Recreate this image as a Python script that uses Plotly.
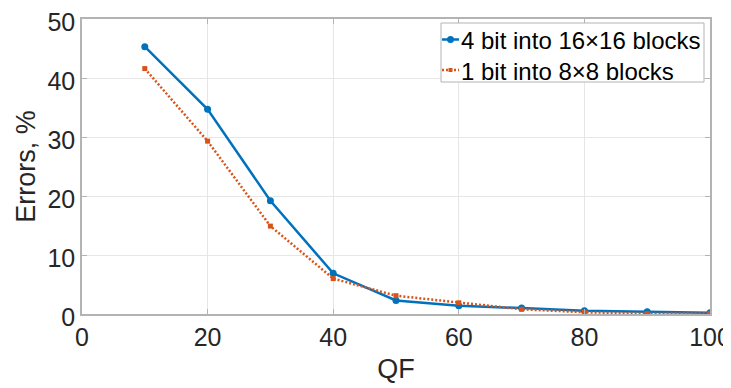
import plotly.graph_objects as go

qf = [10, 20, 30, 40, 50, 60, 70, 80, 90, 100]
err_4bit_16 = [45.3, 34.7, 19.2, 6.9, 2.3, 1.4, 1.0, 0.55, 0.4, 0.2]
err_1bit_8 = [41.6, 29.3, 14.9, 6.0, 3.1, 1.9, 0.8, 0.3, 0.05, 0.1]
series_names = ["4 bit into 16×16 blocks", "1 bit into 8×8 blocks"]
x_ticks = [0, 20, 40, 60, 80, 100]
y_ticks = [0, 10, 20, 30, 40, 50]

BLUE = "#0072BD"
ORANGE = "#D95319"
FONT = "Liberation Sans, Arial, sans-serif"
TXT = "#262626"
AXC = "#b3b3b3"
DOT = "2px,2px"

# page is rendered with an 8px body margin -> compensate in the layout margins
W, H = 731, 388
L, T, R, B = 74, 11, 29, 82
PW, PH = W - L - R, H - T - B


def px(xp):
    """page-pixel x (of the screenshot) -> paper coordinate"""
    return (xp - 8 - L) / PW


def py(yp):
    return 1 - (yp - 8 - T) / PH


fig = go.Figure()
fig.add_trace(go.Scatter(
    x=qf, y=err_4bit_16, name=series_names[0], mode="lines+markers",
    line=dict(color=BLUE, width=2.5), marker=dict(color=BLUE, size=7),
    showlegend=False))
fig.add_trace(go.Scatter(
    x=qf, y=err_1bit_8, name=series_names[1], mode="lines+markers",
    line=dict(color=ORANGE, width=2.5, dash=DOT),
    marker=dict(color=ORANGE, size=5, symbol="square"),
    showlegend=False))

axis_common = dict(
    showgrid=True, gridcolor="#e6e6e6", gridwidth=1,
    showline=True, linecolor=AXC, linewidth=1.5, mirror="ticks",
    ticks="inside", ticklen=5, tickcolor=AXC,
    zeroline=False, automargin=False, ticklabeloverflow="allow",
    tickfont=dict(family=FONT, size=25, color=TXT),
)

# manual legend (box, samples, labels)
shapes = [dict(type="rect", xref="paper", yref="paper",
               x0=px(441), x1=px(704), y0=py(82), y1=py(23),
               line=dict(color=AXC, width=1), fillcolor="white", layer="above")]
annotations = []
rows = [(39.5, BLUE, "solid", 7, "circle"), (70, ORANGE, DOT, 4, "rect")]
for (yc, col, dash, msize, mshape), name in zip(rows, series_names):
    shapes.append(dict(type="line", xref="paper", yref="paper",
                       x0=px(442), x1=px(459), y0=py(yc), y1=py(yc),
                       line=dict(color=col, width=2.5, dash=dash), layer="above"))
    shapes.append(dict(type="circle" if mshape == "circle" else "rect",
                       xref="paper", yref="paper",
                       xsizemode="pixel", ysizemode="pixel",
                       xanchor=px(450.5), yanchor=py(yc),
                       x0=-msize / 2, x1=msize / 2, y0=-msize / 2, y1=msize / 2,
                       fillcolor=col, line=dict(color=col, width=0), layer="above"))
    annotations.append(dict(xref="paper", yref="paper", x=px(459), y=py(yc + 1),
                            xanchor="left", yanchor="middle", showarrow=False,
                            text=name, font=dict(family=FONT, size=24, color="#000000")))

fig.update_layout(
    width=W, height=H,
    margin=dict(l=L, r=R, t=T, b=B),
    paper_bgcolor="white", plot_bgcolor="white",
    font=dict(family=FONT, color=TXT),
    xaxis=dict(range=[0, 100], tickvals=x_ticks, **axis_common,
               title=dict(text="QF", font=dict(family=FONT, size=27, color=TXT), standoff=9)),
    yaxis=dict(range=[0, 50], tickvals=y_ticks, ticklabelshift=3, **axis_common,
               title=dict(text="Errors, %", font=dict(family=FONT, size=27, color=TXT), standoff=4)),
    shapes=shapes,
    annotations=annotations,
    showlegend=False,
)

fig.write_html("out.html")
